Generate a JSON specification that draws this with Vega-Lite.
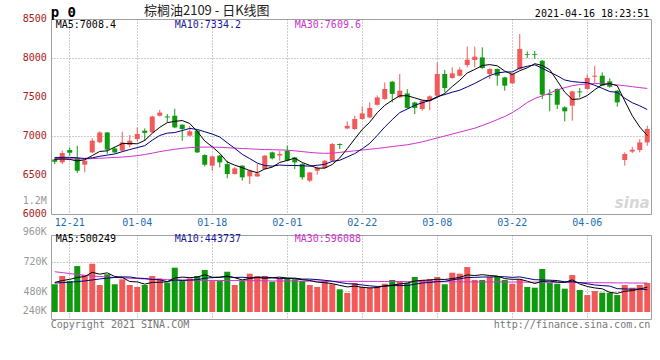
{
  "$schema": "https://vega.github.io/schema/vega-lite/v6.json",
  "background": "white",
  "padding": {"left": 0, "top": 4, "right": 10, "bottom": 4},
  "bounds": "flush",
  "spacing": 21,
  "config": {
    "view": {"stroke": "#a0a0a0", "strokeWidth": 1},
    "axis": {"labelFont": "DejaVu Sans Mono", "labelFontSize": 10, "domain": false, "ticks": false, "gridDash": [1, 2], "gridColor": "#9a9a9a", "title": null, "labelOverlap": false, "labelFlush": false}
  },
  "datasets": {
    "k": [
      {"d":"12-17","o":6700,"h":6720,"l":6640,"c":6670,"v":535,"m5":6700,"m10":6725,"m30":6712,"vm5":550,"vm10":545,"vm30":637},
      {"d":"12-18","o":6662,"h":6812,"l":6640,"c":6782,"v":602,"m5":6705,"m10":6726,"m30":6710,"vm5":565,"vm10":548,"vm30":630},
      {"d":"12-21","o":6820,"h":6854,"l":6748,"c":6785,"v":561,"m5":6700,"m10":6726,"m30":6708,"vm5":575,"vm10":552,"vm30":622},
      {"d":"12-22","o":6718,"h":6876,"l":6526,"c":6555,"v":683,"m5":6680,"m10":6720,"m30":6706,"vm5":590,"vm10":556,"vm30":615},
      {"d":"12-23","o":6632,"h":6690,"l":6535,"c":6683,"v":610,"m5":6695,"m10":6712,"m30":6706,"vm5":598,"vm10":562,"vm30":608},
      {"d":"12-24","o":6790,"h":6970,"l":6780,"c":6940,"v":702,"m5":6749,"m10":6720,"m30":6710,"vm5":632,"vm10":570,"vm30":602},
      {"d":"12-25","o":6920,"h":7060,"l":6910,"c":7045,"v":529,"m5":6802,"m10":6740,"m30":6715,"vm5":617,"vm10":578,"vm30":598},
      {"d":"12-28","o":7045,"h":7050,"l":6770,"c":6825,"v":616,"m5":6810,"m10":6755,"m30":6720,"vm5":628,"vm10":585,"vm30":594},
      {"d":"12-29","o":6840,"h":6860,"l":6780,"c":6790,"v":535,"m5":6857,"m10":6770,"m30":6725,"vm5":598,"vm10":590,"vm30":590},
      {"d":"12-30","o":6812,"h":7055,"l":6800,"c":6918,"v":575,"m5":6904,"m10":6799,"m30":6730,"vm5":591,"vm10":595,"vm30":587},
      {"d":"12-31","o":6885,"h":7013,"l":6854,"c":6940,"v":529,"m5":6904,"m10":6826,"m30":6738,"vm5":557,"vm10":594,"vm30":584},
      {"d":"01-04","o":6962,"h":7110,"l":6927,"c":7026,"v":513,"m5":6900,"m10":6851,"m30":6748,"vm5":554,"vm10":585,"vm30":581},
      {"d":"01-05","o":7068,"h":7097,"l":6940,"c":7040,"v":529,"m5":6943,"m10":6876,"m30":6762,"vm5":536,"vm10":582,"vm30":578},
      {"d":"01-06","o":7046,"h":7260,"l":7040,"c":7250,"v":602,"m5":7035,"m10":6946,"m30":6780,"vm5":550,"vm10":574,"vm30":576},
      {"d":"01-07","o":7260,"h":7337,"l":7250,"c":7300,"v":583,"m5":7111,"m10":7007,"m30":6800,"vm5":551,"vm10":571,"vm30":574},
      {"d":"01-08","o":7250,"h":7282,"l":7175,"c":7238,"v":548,"m5":7171,"m10":7037,"m30":6815,"vm5":555,"vm10":556,"vm30":572},
      {"d":"01-11","o":7260,"h":7350,"l":7100,"c":7110,"v":670,"m5":7188,"m10":7044,"m30":6830,"vm5":586,"vm10":570,"vm30":571},
      {"d":"01-12","o":7145,"h":7150,"l":6940,"c":7090,"v":561,"m5":7198,"m10":7070,"m30":6842,"vm5":593,"vm10":565,"vm30":570},
      {"d":"01-13","o":7005,"h":7132,"l":6995,"c":7060,"v":583,"m5":7160,"m10":7097,"m30":6850,"vm5":589,"vm10":569,"vm30":569},
      {"d":"01-14","o":7068,"h":7075,"l":6782,"c":6790,"v":602,"m5":7058,"m10":7084,"m30":6855,"vm5":593,"vm10":572,"vm30":568},
      {"d":"01-15","o":6756,"h":6765,"l":6610,"c":6632,"v":651,"m5":6936,"m10":7054,"m30":6858,"vm5":613,"vm10":584,"vm30":567},
      {"d":"01-18","o":6620,"h":6745,"l":6555,"c":6739,"v":561,"m5":6862,"m10":7025,"m30":6858,"vm5":592,"vm10":589,"vm30":566},
      {"d":"01-19","o":6748,"h":6755,"l":6597,"c":6662,"v":561,"m5":6777,"m10":6987,"m30":6855,"vm5":592,"vm10":592,"vm30":566},
      {"d":"01-20","o":6640,"h":6683,"l":6457,"c":6513,"v":637,"m5":6667,"m10":6913,"m30":6850,"vm5":602,"vm10":596,"vm30":565},
      {"d":"01-21","o":6513,"h":6600,"l":6505,"c":6585,"v":529,"m5":6626,"m10":6842,"m30":6845,"vm5":588,"vm10":590,"vm30":565},
      {"d":"01-22","o":6620,"h":6625,"l":6427,"c":6470,"v":561,"m5":6594,"m10":6765,"m30":6840,"vm5":570,"vm10":592,"vm30":564},
      {"d":"01-25","o":6482,"h":6570,"l":6385,"c":6555,"v":621,"m5":6557,"m10":6710,"m30":6835,"vm5":582,"vm10":587,"vm30":564},
      {"d":"01-26","o":6482,"h":6641,"l":6475,"c":6520,"v":602,"m5":6529,"m10":6653,"m30":6830,"vm5":590,"vm10":591,"vm30":563},
      {"d":"01-27","o":6577,"h":6755,"l":6570,"c":6748,"v":602,"m5":6576,"m10":6621,"m30":6826,"vm5":583,"vm10":593,"vm30":563},
      {"d":"01-28","o":6790,"h":6800,"l":6700,"c":6713,"v":556,"m5":6601,"m10":6614,"m30":6824,"vm5":588,"vm10":588,"vm30":562},
      {"d":"01-29","o":6750,"h":6812,"l":6683,"c":6770,"v":583,"m5":6661,"m10":6628,"m30":6822,"vm5":593,"vm10":581,"vm30":561},
      {"d":"02-01","o":6810,"h":6876,"l":6680,"c":6685,"v":583,"m5":6687,"m10":6622,"m30":6818,"vm5":585,"vm10":584,"vm30":561},
      {"d":"02-02","o":6726,"h":6730,"l":6577,"c":6662,"v":575,"m5":6716,"m10":6622,"m30":6810,"vm5":580,"vm10":585,"vm30":561},
      {"d":"02-03","o":6640,"h":6650,"l":6440,"c":6470,"v":561,"m5":6660,"m10":6618,"m30":6800,"vm5":572,"vm10":577,"vm30":560},
      {"d":"02-04","o":6427,"h":6540,"l":6410,"c":6533,"v":529,"m5":6624,"m10":6613,"m30":6790,"vm5":566,"vm10":577,"vm30":560},
      {"d":"02-05","o":6555,"h":6610,"l":6504,"c":6590,"v":513,"m5":6588,"m10":6625,"m30":6782,"vm5":552,"vm10":573,"vm30":560},
      {"d":"02-08","o":6590,"h":6690,"l":6580,"c":6683,"v":561,"m5":6588,"m10":6637,"m30":6778,"vm5":548,"vm10":567,"vm30":560},
      {"d":"02-09","o":6683,"h":6910,"l":6675,"c":6897,"v":535,"m5":6635,"m10":6675,"m30":6780,"vm5":540,"vm10":560,"vm30":559},
      {"d":"02-10","o":6897,"h":6905,"l":6833,"c":6885,"v":494,"m5":6718,"m10":6689,"m30":6790,"vm5":526,"vm10":549,"vm30":559},
      {"d":"02-18","o":7097,"h":7187,"l":7085,"c":7130,"v":464,"m5":6837,"m10":6731,"m30":6800,"vm5":513,"vm10":540,"vm30":559},
      {"d":"02-19","o":7090,"h":7260,"l":7080,"c":7218,"v":545,"m5":6963,"m10":6775,"m30":6810,"vm5":520,"vm10":536,"vm30":559},
      {"d":"02-22","o":7218,"h":7376,"l":7210,"c":7290,"v":513,"m5":7084,"m10":6836,"m30":6820,"vm5":510,"vm10":529,"vm30":558},
      {"d":"02-23","o":7238,"h":7431,"l":7230,"c":7360,"v":507,"m5":7177,"m10":6906,"m30":6830,"vm5":505,"vm10":522,"vm30":558},
      {"d":"02-24","o":7400,"h":7520,"l":7390,"c":7495,"v":513,"m5":7299,"m10":7008,"m30":6840,"vm5":508,"vm10":517,"vm30":558},
      {"d":"02-25","o":7474,"h":7687,"l":7465,"c":7603,"v":539,"m5":7393,"m10":7115,"m30":6852,"vm5":523,"vm10":518,"vm30":557},
      {"d":"02-26","o":7696,"h":7705,"l":7431,"c":7540,"v":570,"m5":7458,"m10":7210,"m30":6865,"vm5":528,"vm10":524,"vm30":557},
      {"d":"03-01","o":7495,"h":7795,"l":7485,"c":7581,"v":556,"m5":7516,"m10":7300,"m30":6876,"vm5":537,"vm10":524,"vm30":557},
      {"d":"03-02","o":7546,"h":7600,"l":7350,"c":7360,"v":545,"m5":7516,"m10":7346,"m30":6888,"vm5":545,"vm10":525,"vm30":556},
      {"d":"03-03","o":7430,"h":7440,"l":7282,"c":7360,"v":594,"m5":7489,"m10":7394,"m30":6905,"vm5":561,"vm10":535,"vm30":556},
      {"d":"03-04","o":7346,"h":7460,"l":7324,"c":7453,"v":570,"m5":7459,"m10":7426,"m30":6925,"vm5":567,"vm10":545,"vm30":556},
      {"d":"03-05","o":7453,"h":7520,"l":7330,"c":7508,"v":578,"m5":7452,"m10":7455,"m30":6950,"vm5":569,"vm10":549,"vm30":556},
      {"d":"03-08","o":7517,"h":7944,"l":7510,"c":7795,"v":594,"m5":7495,"m10":7506,"m30":6975,"vm5":576,"vm10":557,"vm30":555},
      {"d":"03-09","o":7795,"h":7846,"l":7560,"c":7615,"v":535,"m5":7546,"m10":7531,"m30":7000,"vm5":574,"vm10":559,"vm30":555},
      {"d":"03-10","o":7744,"h":7880,"l":7735,"c":7803,"v":629,"m5":7635,"m10":7562,"m30":7025,"vm5":581,"vm10":571,"vm30":555},
      {"d":"03-11","o":7773,"h":7880,"l":7765,"c":7850,"v":621,"m5":7714,"m10":7587,"m30":7050,"vm5":591,"vm10":579,"vm30":555},
      {"d":"03-12","o":7910,"h":8145,"l":7880,"c":7978,"v":675,"m5":7808,"m10":7630,"m30":7075,"vm5":611,"vm10":590,"vm30":554},
      {"d":"03-15","o":7974,"h":8145,"l":7880,"c":8017,"v":570,"m5":7853,"m10":7674,"m30":7100,"vm5":606,"vm10":591,"vm30":554},
      {"d":"03-16","o":8008,"h":8136,"l":7860,"c":7872,"v":570,"m5":7904,"m10":7725,"m30":7135,"vm5":613,"vm10":594,"vm30":554},
      {"d":"03-17","o":7795,"h":7870,"l":7731,"c":7859,"v":594,"m5":7915,"m10":7775,"m30":7170,"vm5":606,"vm10":594,"vm30":554},
      {"d":"03-18","o":7859,"h":7865,"l":7645,"c":7773,"v":602,"m5":7900,"m10":7807,"m30":7210,"vm5":602,"vm10":597,"vm30":554},
      {"d":"03-19","o":7751,"h":7760,"l":7581,"c":7645,"v":570,"m5":7833,"m10":7821,"m30":7250,"vm5":581,"vm10":596,"vm30":553},
      {"d":"03-22","o":7675,"h":7805,"l":7665,"c":7795,"v":539,"m5":7789,"m10":7821,"m30":7300,"vm5":575,"vm10":591,"vm30":553},
      {"d":"03-23","o":7859,"h":8308,"l":7850,"c":8115,"v":575,"m5":7837,"m10":7871,"m30":7360,"vm5":576,"vm10":595,"vm30":553},
      {"d":"03-24","o":8050,"h":8085,"l":8000,"c":8040,"v":513,"m5":7874,"m10":7894,"m30":7430,"vm5":560,"vm10":583,"vm30":552},
      {"d":"03-25","o":8050,"h":8090,"l":7990,"c":8040,"v":507,"m5":7927,"m10":7913,"m30":7480,"vm5":541,"vm10":572,"vm30":552},
      {"d":"03-26","o":7965,"h":7975,"l":7474,"c":7530,"v":659,"m5":7904,"m10":7869,"m30":7515,"vm5":559,"vm10":570,"vm30":551},
      {"d":"03-29","o":7538,"h":7600,"l":7316,"c":7525,"v":548,"m5":7850,"m10":7819,"m30":7550,"vm5":560,"vm10":568,"vm30":551},
      {"d":"03-30","o":7603,"h":7610,"l":7346,"c":7401,"v":539,"m5":7707,"m10":7772,"m30":7590,"vm5":553,"vm10":565,"vm30":550},
      {"d":"03-31","o":7367,"h":7380,"l":7187,"c":7316,"v":499,"m5":7562,"m10":7718,"m30":7620,"vm5":550,"vm10":555,"vm30":550},
      {"d":"04-01","o":7389,"h":7580,"l":7196,"c":7572,"v":610,"m5":7469,"m10":7698,"m30":7645,"vm5":571,"vm10":556,"vm30":549},
      {"d":"04-02","o":7572,"h":7615,"l":7495,"c":7560,"v":488,"m5":7475,"m10":7689,"m30":7660,"vm5":537,"vm10":548,"vm30":549},
      {"d":"04-06","o":7603,"h":7786,"l":7595,"c":7744,"v":447,"m5":7519,"m10":7684,"m30":7668,"vm5":517,"vm10":539,"vm30":548},
      {"d":"04-07","o":7760,"h":7901,"l":7680,"c":7773,"v":480,"m5":7593,"m10":7650,"m30":7672,"vm5":505,"vm10":529,"vm30":548},
      {"d":"04-08","o":7773,"h":7816,"l":7640,"c":7645,"v":466,"m5":7659,"m10":7611,"m30":7672,"vm5":498,"vm10":524,"vm30":547},
      {"d":"04-09","o":7700,"h":7740,"l":7620,"c":7632,"v":466,"m5":7671,"m10":7570,"m30":7665,"vm5":469,"vm10":520,"vm30":547},
      {"d":"04-12","o":7581,"h":7590,"l":7376,"c":7431,"v":447,"m5":7645,"m10":7560,"m30":7655,"vm5":461,"vm10":499,"vm30":546},
      {"d":"04-13","o":6692,"h":6790,"l":6620,"c":6769,"v":529,"m5":7450,"m10":7484,"m30":7645,"vm5":478,"vm10":497,"vm30":546},
      {"d":"04-14","o":6800,"h":6860,"l":6780,"c":6824,"v":507,"m5":7260,"m10":7427,"m30":7632,"vm5":483,"vm10":494,"vm30":545},
      {"d":"04-15","o":6820,"h":6960,"l":6790,"c":6918,"v":529,"m5":7115,"m10":7387,"m30":7620,"vm5":496,"vm10":497,"vm30":545},
      {"d":"04-16","o":6918,"h":7132,"l":6876,"c":7090,"v":545,"m5":7006,"m10":7339,"m30":7610,"vm5":511,"vm10":490,"vm30":545}
    ]
  },
  "vconcat": [
    {
      "width": 600,
      "height": 195,
      "data": {"name": "k"},
      "encoding": {
        "x": {
          "field": "d", "type": "ordinal",
          "scale": {"paddingInner": 0, "paddingOuter": 0, "domain": ["12-17","12-18","12-21","12-22","12-23","12-24","12-25","12-28","12-29","12-30","12-31","01-04","01-05","01-06","01-07","01-08","01-11","01-12","01-13","01-14","01-15","01-18","01-19","01-20","01-21","01-22","01-25","01-26","01-27","01-28","01-29","02-01","02-02","02-03","02-04","02-05","02-08","02-09","02-10","02-18","02-19","02-22","02-23","02-24","02-25","02-26","03-01","03-02","03-03","03-04","03-05","03-08","03-09","03-10","03-11","03-12","03-15","03-16","03-17","03-18","03-19","03-22","03-23","03-24","03-25","03-26","03-29","03-30","03-31","04-01","04-02","04-06","04-07","04-08","04-09","04-12","04-13","04-14","04-15","04-16"]},
          "axis": {"values": ["12-21","01-04","01-18","02-01","02-22","03-08","03-22","04-06"], "labelAngle": 0, "labelColor": "#1e6eb4", "labelPadding": 3, "grid": true, "bandPosition": 0.5, "labelOverlap": false}
        }
      },
      "layer": [
        {
          "mark": {"type": "rule", "strokeWidth": 1},
          "encoding": {
            "y": {"field": "l", "type": "quantitative", "scale": {"domain": [6000, 8500], "nice": false, "zero": false},
              "axis": {"values": [6000, 6500, 7000, 7500, 8000, 8500], "labels": false, "gridOpacity": {"condition": {"test": "datum.value == 6000 || datum.value == 8500", "value": 0}, "value": 1}, "minExtent": 50, "maxExtent": 50}},
            "y2": {"field": "h"},
            "color": {"condition": {"test": "datum.c >= datum.o", "value": "#f25a5a"}, "value": "#0f990f"}
          }
        },
        {
          "mark": {"type": "bar", "size": 5},
          "encoding": {
            "y": {"field": "o", "type": "quantitative"},
            "y2": {"field": "c"},
            "color": {"condition": {"test": "datum.c >= datum.o", "value": "#f25a5a"}, "value": "#0f990f"}
          }
        },
        {"mark": {"type": "line", "strokeWidth": 1, "color": "#cc33cc"}, "encoding": {"y": {"field": "m30", "type": "quantitative"}}},
        {"mark": {"type": "line", "strokeWidth": 1, "color": "#000080"}, "encoding": {"y": {"field": "m10", "type": "quantitative"}}},
        {"mark": {"type": "line", "strokeWidth": 1, "color": "#000000"}, "encoding": {"y": {"field": "m5", "type": "quantitative"}}},
        {
          "data": {"values": [{"t": 6000}, {"t": 6500}, {"t": 7000}, {"t": 7500}, {"t": 8000}, {"t": 8500}]},
          "mark": {"type": "text", "align": "right", "baseline": "middle", "font": "DejaVu Sans Mono", "fontSize": 10, "dx": -8, "color": "#a81818"},
          "encoding": {"x": {"datum": "12-17", "type": "ordinal"}, "y": {"field": "t", "type": "quantitative"}, "text": {"field": "t", "type": "quantitative", "format": "d"}}
        },
        {
          "data": {"values": [{}]},
          "mark": {"type": "text", "align": "right", "baseline": "middle", "font": "DejaVu Sans Mono", "fontSize": 10, "dx": -8, "color": "#999999"},
          "encoding": {"x": {"datum": "12-17", "type": "ordinal"}, "y": {"datum": 6167, "type": "quantitative"}, "text": {"value": "1.2M"}}
        },
        {
          "data": {"values": [{}]},
          "mark": {"type": "text", "align": "left", "baseline": "alphabetic", "font": "DejaVu Sans Mono", "fontSize": 14, "fontWeight": "bold", "dx": -4, "color": "#000"},
          "encoding": {"x": {"datum": "12-17", "type": "ordinal"}, "y": {"datum": 8529, "type": "quantitative"}, "text": {"value": "p 0"}}
        },
        {
          "data": {"values": [{}]},
          "mark": {"type": "text", "align": "center", "baseline": "alphabetic", "font": "Noto Sans CJK SC", "fontSize": 13, "dx": 2, "color": "#222"},
          "encoding": {"x": {"datum": "01-15", "type": "ordinal"}, "y": {"datum": 8545, "type": "quantitative"}, "text": {"value": "棕榈油2109 - 日K线图"}}
        },
        {
          "data": {"values": [{}]},
          "mark": {"type": "text", "align": "right", "baseline": "alphabetic", "font": "DejaVu Sans Mono", "fontSize": 10, "dx": 2, "color": "#000"},
          "encoding": {"x": {"datum": "04-16", "type": "ordinal"}, "y": {"datum": 8520, "type": "quantitative"}, "text": {"value": "2021-04-16 18:23:51"}}
        },
        {
          "data": {"values": [{}]},
          "mark": {"type": "text", "align": "left", "baseline": "middle", "font": "DejaVu Sans Mono", "fontSize": 10, "dx": 1, "color": "#000"},
          "encoding": {"x": {"datum": "12-17", "type": "ordinal"}, "y": {"datum": 8420, "type": "quantitative"}, "text": {"value": "MA5:7008.4"}}
        },
        {
          "data": {"values": [{}]},
          "mark": {"type": "text", "align": "left", "baseline": "middle", "font": "DejaVu Sans Mono", "fontSize": 10, "dx": 0, "color": "#1a1a9a"},
          "encoding": {"x": {"datum": "01-11", "type": "ordinal"}, "y": {"datum": 8420, "type": "quantitative"}, "text": {"value": "MA10:7334.2"}}
        },
        {
          "data": {"values": [{}]},
          "mark": {"type": "text", "align": "left", "baseline": "middle", "font": "DejaVu Sans Mono", "fontSize": 10, "dx": 0, "color": "#cc33cc"},
          "encoding": {"x": {"datum": "02-02", "type": "ordinal"}, "y": {"datum": 8420, "type": "quantitative"}, "text": {"value": "MA30:7609.6"}}
        },
        {
          "data": {"values": [{}]},
          "mark": {"type": "text", "align": "center", "baseline": "middle", "font": "DejaVu Sans", "fontSize": 15, "fontStyle": "italic", "fontWeight": "bold", "color": "#d6d6d6"},
          "encoding": {"x": {"datum": "04-14", "type": "ordinal"}, "y": {"datum": 6140, "type": "quantitative"}, "text": {"value": "sina"}}
        }
      ]
    },
    {
      "width": 600,
      "height": 84,
      "data": {"name": "k"},
      "encoding": {
        "x": {
          "field": "d", "type": "ordinal",
          "scale": {"paddingInner": 0, "paddingOuter": 0, "domain": ["12-17","12-18","12-21","12-22","12-23","12-24","12-25","12-28","12-29","12-30","12-31","01-04","01-05","01-06","01-07","01-08","01-11","01-12","01-13","01-14","01-15","01-18","01-19","01-20","01-21","01-22","01-25","01-26","01-27","01-28","01-29","02-01","02-02","02-03","02-04","02-05","02-08","02-09","02-10","02-18","02-19","02-22","02-23","02-24","02-25","02-26","03-01","03-02","03-03","03-04","03-05","03-08","03-09","03-10","03-11","03-12","03-15","03-16","03-17","03-18","03-19","03-22","03-23","03-24","03-25","03-26","03-29","03-30","03-31","04-01","04-02","04-06","04-07","04-08","04-09","04-12","04-13","04-14","04-15","04-16"]},
          "axis": {"values": ["12-21","01-04","01-18","02-01","02-22","03-08","03-22","04-06"], "labels": false, "grid": true, "bandPosition": 0.5}
        }
      },
      "layer": [
        {
          "mark": {"type": "bar", "size": 6},
          "encoding": {
            "y": {"field": "v", "type": "quantitative", "scale": {"domain": [252, 936], "nice": false, "zero": false},
              "axis": {"values": [480, 720], "labelOverlap": false, "labelExpr": "datum.value + 'K'", "labelColor": "#999999", "labelPadding": 4, "minExtent": 50, "maxExtent": 50}},
            "y2": {"datum": 309},
            "color": {"condition": {"test": "datum.c >= datum.o", "value": "#f25a5a"}, "value": "#0f990f"}
          }
        },
        {"mark": {"type": "line", "strokeWidth": 1, "color": "#cc33cc"}, "encoding": {"y": {"field": "vm30", "type": "quantitative"}}},
        {"mark": {"type": "line", "strokeWidth": 1, "color": "#000080"}, "encoding": {"y": {"field": "vm10", "type": "quantitative"}}},
        {"mark": {"type": "line", "strokeWidth": 1, "color": "#000000"}, "encoding": {"y": {"field": "vm5", "type": "quantitative"}}},
        {
          "data": {"values": [{}]},
          "mark": {"type": "text", "align": "right", "baseline": "middle", "font": "DejaVu Sans Mono", "fontSize": 10, "dx": -8, "color": "#999999"},
          "encoding": {"x": {"datum": "12-17", "type": "ordinal"}, "y": {"datum": 960, "type": "quantitative"}, "text": {"value": "960K"}}
        },
        {
          "data": {"values": [{}]},
          "mark": {"type": "text", "align": "right", "baseline": "middle", "font": "DejaVu Sans Mono", "fontSize": 10, "dx": -8, "dy": -9, "color": "#999999"},
          "encoding": {"x": {"datum": "12-17", "type": "ordinal"}, "y": {"datum": 240, "type": "quantitative"}, "text": {"value": "240K"}}
        },
        {
          "data": {"values": [{}]},
          "mark": {"type": "text", "align": "left", "baseline": "middle", "font": "DejaVu Sans Mono", "fontSize": 10, "dx": 1, "color": "#000"},
          "encoding": {"x": {"datum": "12-17", "type": "ordinal"}, "y": {"datum": 903, "type": "quantitative"}, "text": {"value": "MA5:500249"}}
        },
        {
          "data": {"values": [{}]},
          "mark": {"type": "text", "align": "left", "baseline": "middle", "font": "DejaVu Sans Mono", "fontSize": 10, "dx": 0, "color": "#1a1a9a"},
          "encoding": {"x": {"datum": "01-11", "type": "ordinal"}, "y": {"datum": 903, "type": "quantitative"}, "text": {"value": "MA10:443737"}}
        },
        {
          "data": {"values": [{}]},
          "mark": {"type": "text", "align": "left", "baseline": "middle", "font": "DejaVu Sans Mono", "fontSize": 10, "dx": 0, "color": "#cc33cc"},
          "encoding": {"x": {"datum": "02-02", "type": "ordinal"}, "y": {"datum": 903, "type": "quantitative"}, "text": {"value": "MA30:596088"}}
        },
        {
          "data": {"values": [{}]},
          "mark": {"type": "text", "align": "left", "baseline": "middle", "font": "DejaVu Sans Mono", "fontSize": 10, "dx": -4, "color": "#777777"},
          "encoding": {"x": {"datum": "12-17", "type": "ordinal"}, "y": {"datum": 203, "type": "quantitative"}, "text": {"value": "Copyright 2021 SINA.COM"}}
        },
        {
          "data": {"values": [{}]},
          "mark": {"type": "text", "align": "right", "baseline": "middle", "font": "DejaVu Sans Mono", "fontSize": 10, "dx": 3, "color": "#777777"},
          "encoding": {"x": {"datum": "04-16", "type": "ordinal"}, "y": {"datum": 203, "type": "quantitative"}, "text": {"value": "http://finance.sina.com.cn"}}
        }
      ]
    }
  ]
}
